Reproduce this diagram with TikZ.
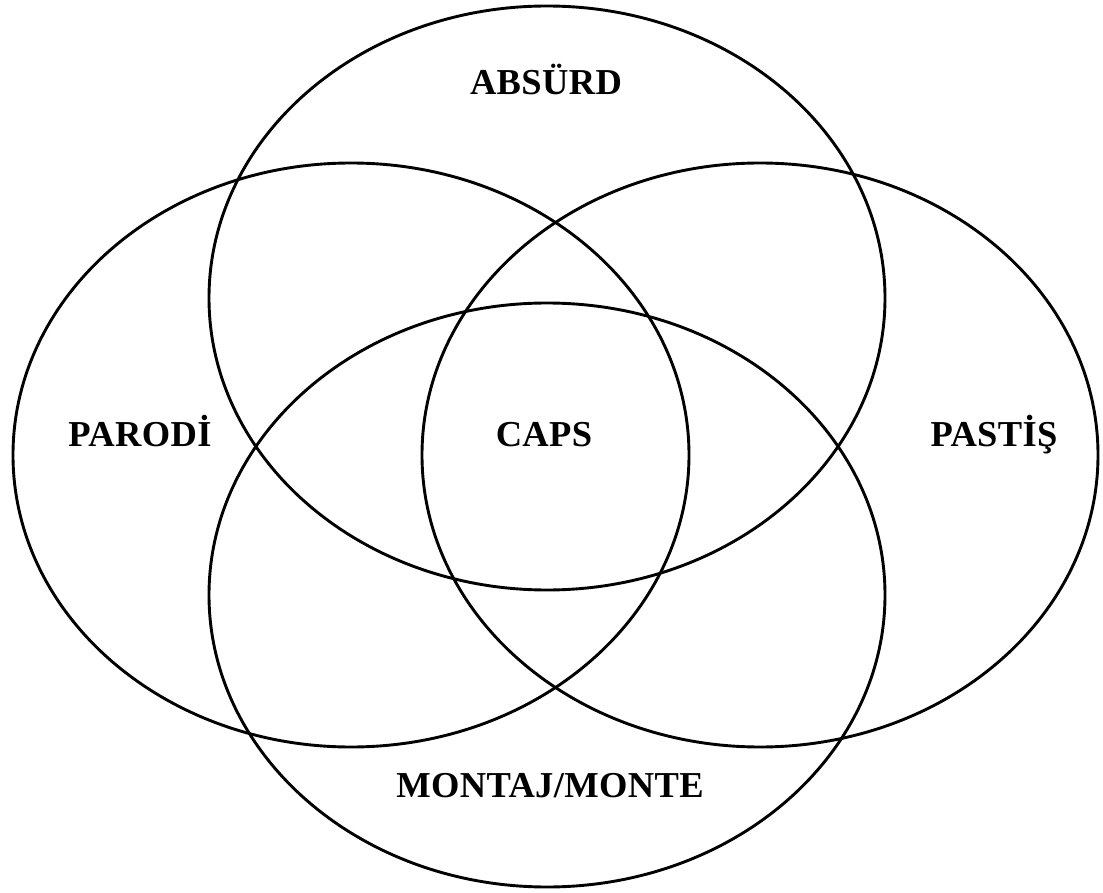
\documentclass[tikz,border=0pt]{standalone}
\usepackage{fontspec}
\setmainfont{Liberation Serif}
\begin{document}
\begin{tikzpicture}[x=1pt,y=-1pt,
  setring/.style={draw=black,line width=2.9pt},
  setlabel/.style={anchor=base,inner sep=0pt,font=\fontsize{36.5}{40}\selectfont\bfseries\addfontfeature{LetterSpace=1}}]
  \useasboundingbox[fill=white] (0,0) rectangle (1103,893);
  % four overlapping sets
  \draw[setring] (547,298) ellipse [x radius=338, y radius=292];
  \draw[setring] (351,455) ellipse [x radius=338, y radius=292];
  \draw[setring] (760,455) ellipse [x radius=338, y radius=292];
  \draw[setring] (547,595) ellipse [x radius=338, y radius=292];
  % labels
  \node[setlabel] (absurd) at (546,95) {ABSÜRD};
  \node[setlabel] (parodi) at (140,446) {PARODİ};
  \node[setlabel] (pastis) at (994,446) {PASTİŞ};
  \node[setlabel] (caps) at (544,446) {CAPS};
  \node[setlabel] (montaj) at (550,797) {MONTAJ/MONTE};
\end{tikzpicture}
\end{document}
